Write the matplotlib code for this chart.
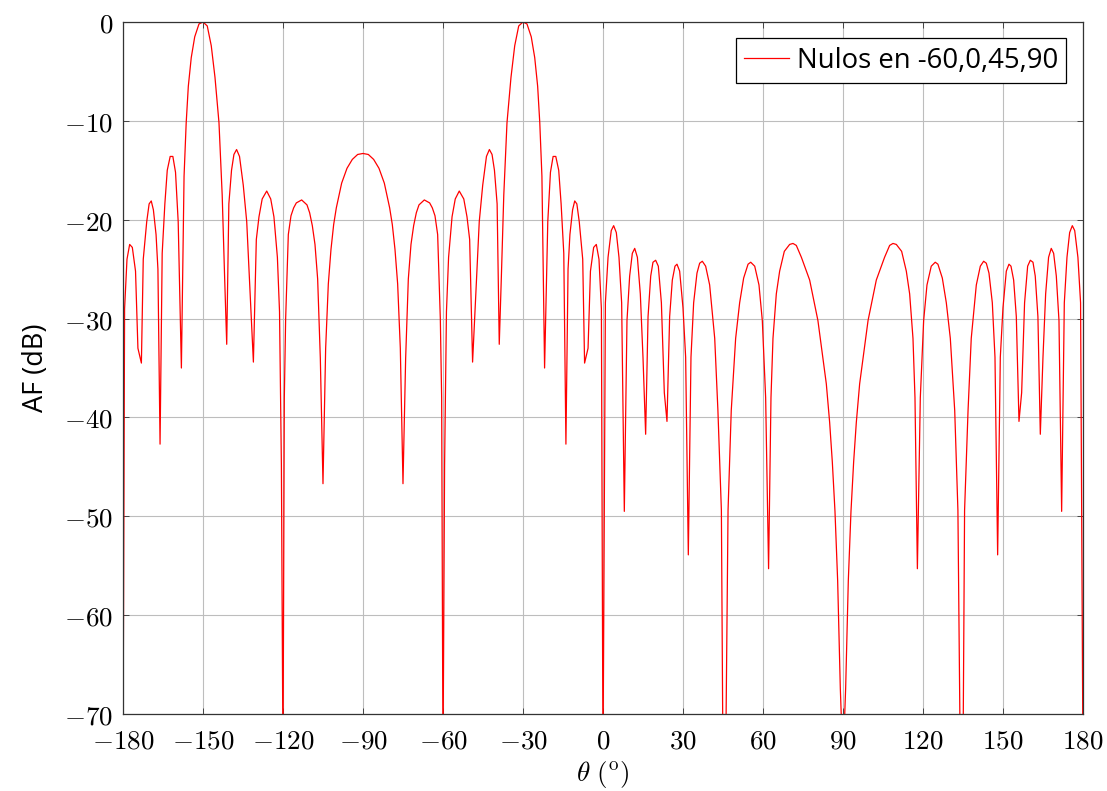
import matplotlib
matplotlib.use('Agg')
import matplotlib.pyplot as plt

plt.rcParams['mathtext.fontset'] = 'cm'
plt.rcParams['font.family'] = ['Open Sans', 'DejaVu Sans']

# valores (theta en grados, AF en dB); -75 = por debajo del eje
theta_a = [-180, -179.4, -178.5, -177.5, -176.5, -175.3, -174.4, -173.1, -172.4, -171.1,
           -170.2, -169.4, -168.6, -167.6, -166.9, -166.1, -165.3, -164.3, -163.4, -162.3,
           -161.3, -160.3, -159.3, -158.1, -157.1, -156.3, -155.5, -154.4, -153.1, -151.5,
           -150, -148.4, -146.9, -145.5, -144, -142.8, -141.9, -141.1, -140.3, -139.3,
           -138.4, -137.4, -136.3, -134.9, -133.6, -132.8, -131.1, -130, -129, -127.8,
           -126.1, -124.6, -123.4, -122.1, -121.3, -120.6]
af_a = [-75, -29, -24, -22.5, -22.8, -25.2, -33, -34.5, -24, -20.2,
        -18.4, -18.1, -19, -21.5, -25, -42.7, -23.4, -18.4, -15, -13.6,
        -13.6, -15.2, -20.2, -35, -15.6, -10.2, -6.5, -3.6, -1.5, -0.2,
        0, -0.4, -2.4, -5.6, -10.2, -17.5, -25.7, -32.6, -18.4, -15,
        -13.4, -12.9, -13.6, -16.5, -20.2, -24.7, -34.4, -22, -19.7, -17.9,
        -17.1, -17.9, -19.7, -23.8, -29.3, -44.8]

theta_b = [-120, -119.5, -119, -118, -117, -116, -115, -113, -111, -110,
           -109, -108, -107, -106.5, -106, -105, -104, -103, -102, -101,
           -100, -98, -96, -94, -92, -90, -88, -86, -84, -82,
           -80, -79, -78, -77, -76, -75, -74, -73.5, -73, -72,
           -71, -70, -69, -67, -65, -64, -63, -62, -61, -60.5]
af_b = [-75, -38, -30, -21.5, -19.6, -18.8, -18.3, -18, -18.5, -19.3,
        -20.6, -22.5, -26, -30, -34, -46.7, -33, -26.5, -23, -20.5,
        -18.8, -16.3, -14.8, -13.9, -13.4, -13.3, -13.4, -13.9, -14.8, -16.3,
        -18.8, -20.5, -23, -26.5, -33, -46.7, -34, -30, -26, -22.5,
        -20.6, -19.3, -18.5, -18, -18.3, -18.8, -19.6, -21.5, -30, -38]

theta_c = [-60, -59.4, -58.7, -57.9, -56.6, -55.4, -53.9, -52.2, -51, -50,
           -48.9, -47.2, -46.4, -45.1, -43.7, -42.6, -41.6, -40.7, -39.7, -38.9,
           -38.1, -37.2, -36, -34.5, -33.1, -31.6, -30, -28.5, -26.9, -25.6,
           -24.5, -23.7, -22.9, -21.9, -20.7, -19.7, -18.7, -17.7, -16.6, -15.7,
           -14.7, -13.9, -13.1, -12.4, -11.4, -10.6, -9.8, -8.9, -7.6, -6.9,
           -5.6, -4.7, -3.5, -2.5, -1.5, -0.6]
af_c = [-75, -44.8, -29.3, -23.8, -19.7, -17.9, -17.1, -17.9, -19.7, -22,
        -34.4, -24.7, -20.2, -16.5, -13.6, -12.9, -13.4, -15, -18.4, -32.6,
        -25.7, -17.5, -10.2, -5.6, -2.4, -0.4, 0, -0.2, -1.5, -3.6,
        -6.5, -10.2, -15.6, -35, -20.2, -15.2, -13.6, -13.6, -15, -18.4,
        -23.4, -42.7, -25, -21.5, -19, -18.1, -18.4, -20.2, -24, -34.5,
        -33, -25.2, -22.8, -22.5, -24, -29]

theta_d = [0, 0.9, 1.9, 3.1, 4, 5, 6, 7, 8, 9,
           10, 11, 11.9, 12.9, 14, 15, 16, 16.9, 17.9, 18.75,
           19.75, 20.75, 21.9, 23, 24, 25, 26, 27, 27.75, 28.75,
           30, 31, 32, 33, 34, 35.25, 36.25, 37.25, 38.5, 40,
           41.9, 43.1, 44.4, 45, 46, 46.9, 48.1, 49.75, 51.25, 52.75,
           54.4, 55.4, 56.9, 58.5, 59.75, 61, 62.1, 63, 63.75, 65,
           66.25, 68, 70, 71.25, 72.5, 74.4, 77.5, 80.6, 83.75, 85,
           86, 87, 88, 89]
af_d = [-75, -28.4, -23.8, -21.1, -20.6, -21.3, -23.8, -28.4, -49.5, -30.2,
        -25.7, -23.4, -22.9, -23.8, -27.5, -33.9, -41.7, -29.8, -25.7, -24.3,
        -24.1, -24.7, -28.4, -37.5, -40.4, -29.8, -26.1, -24.7, -24.5, -25.2,
        -28.9, -33.9, -53.9, -33.9, -28.4, -25.4, -24.4, -24.2, -24.7, -26.6,
        -32, -39.3, -49.4, -75, -75, -49.4, -39.3, -32, -28.4, -25.9,
        -24.5, -24.3, -24.7, -26.6, -30.2, -38, -55.3, -38, -32, -27.5,
        -25.2, -23.2, -22.5, -22.4, -22.6, -23.8, -26.1, -30.2, -36.6, -40.5,
        -44.5, -49.5, -56.5, -67.4]

theta_e = [90, 91, 92, 93, 94, 95, 96.25, 99.4, 102.5, 105.6,
           107.5, 108.75, 110, 112, 113.75, 115, 116.25, 117, 117.9, 119,
           120.25, 121.5, 123.1, 124.6, 125.6, 127.25, 128.75, 130.25, 131.9, 133.1,
           134, 135, 135.6, 136.9, 138.1, 140, 141.5, 142.75, 143.75, 144.75,
           146, 147, 148, 149, 150, 151.25, 152.25, 153, 154, 155,
           156, 157, 158.1, 159.25, 160.25, 161.25, 162.1, 163.1, 164, 165,
           166, 167.1, 168.1, 169, 170, 171, 172, 173, 174, 175,
           176, 176.9, 178.1, 179.1, 180]
af_e = [-75, -67.4, -56.5, -49.5, -44.5, -40.5, -36.6, -30.2, -26.1, -23.8,
        -22.6, -22.4, -22.5, -23.2, -25.2, -27.5, -32, -38, -55.3, -38,
        -30.2, -26.6, -24.7, -24.3, -24.5, -25.9, -28.4, -32, -39.3, -49.4,
        -75, -75, -49.4, -39.3, -32, -26.6, -24.7, -24.2, -24.4, -25.4,
        -28.4, -33.9, -53.9, -33.9, -28.9, -25.2, -24.5, -24.7, -26.1, -29.8,
        -40.4, -37.5, -28.4, -24.7, -24.1, -24.3, -25.7, -29.8, -41.7, -33.9,
        -27.5, -23.8, -22.9, -23.4, -25.7, -30.2, -49.5, -28.4, -23.8, -21.3,
        -20.6, -21.1, -23.8, -28.4, -75]

theta = theta_a + theta_b + theta_c + theta_d + theta_e
af = af_a + af_b + af_c + af_d + af_e

xticks = list(range(-180, 181, 30))
yticks = list(range(-70, 1, 10))

fig = plt.figure(figsize=(11.07, 7.91), dpi=100)
ax = fig.add_axes([0.1111, 0.0973, 0.8672, 0.8749])
ax.plot(theta, af, color='#ff0000', lw=0.9, label='Nulos en -60,0,45,90')

ax.set_xlim(-180, 180)
ax.set_ylim(-70, 0)
ax.set_xticks(xticks)
ax.set_yticks(yticks)
ax.set_xticklabels([f'${v}$' for v in xticks], fontsize=19.5)
ax.set_yticklabels([f'${v}$' for v in yticks], fontsize=19.5)
ax.tick_params(direction='in', length=4, width=0.7, top=True, right=True, pad=7, color='#444444')
ax.tick_params(axis='x', pad=9.5)
ax.grid(True, color='#bdbdbd', lw=0.8)
for s in ax.spines.values():
    s.set_linewidth(0.9)
    s.set_color('#333333')

ax.set_xlabel(r'$\theta\ (^{\mathrm{o}})$', fontsize=19.5, labelpad=3)
ax.set_ylabel('AF (dB)', fontsize=19.5, labelpad=10)

leg = ax.legend(loc='upper right', fontsize=19.8, fancybox=False, framealpha=1,
                edgecolor='black', handlelength=1.62, handletextpad=0.3,
                borderaxespad=0.6, borderpad=0.3)
leg.get_frame().set_linewidth(0.9)

fig.savefig('out.png', dpi=100)
